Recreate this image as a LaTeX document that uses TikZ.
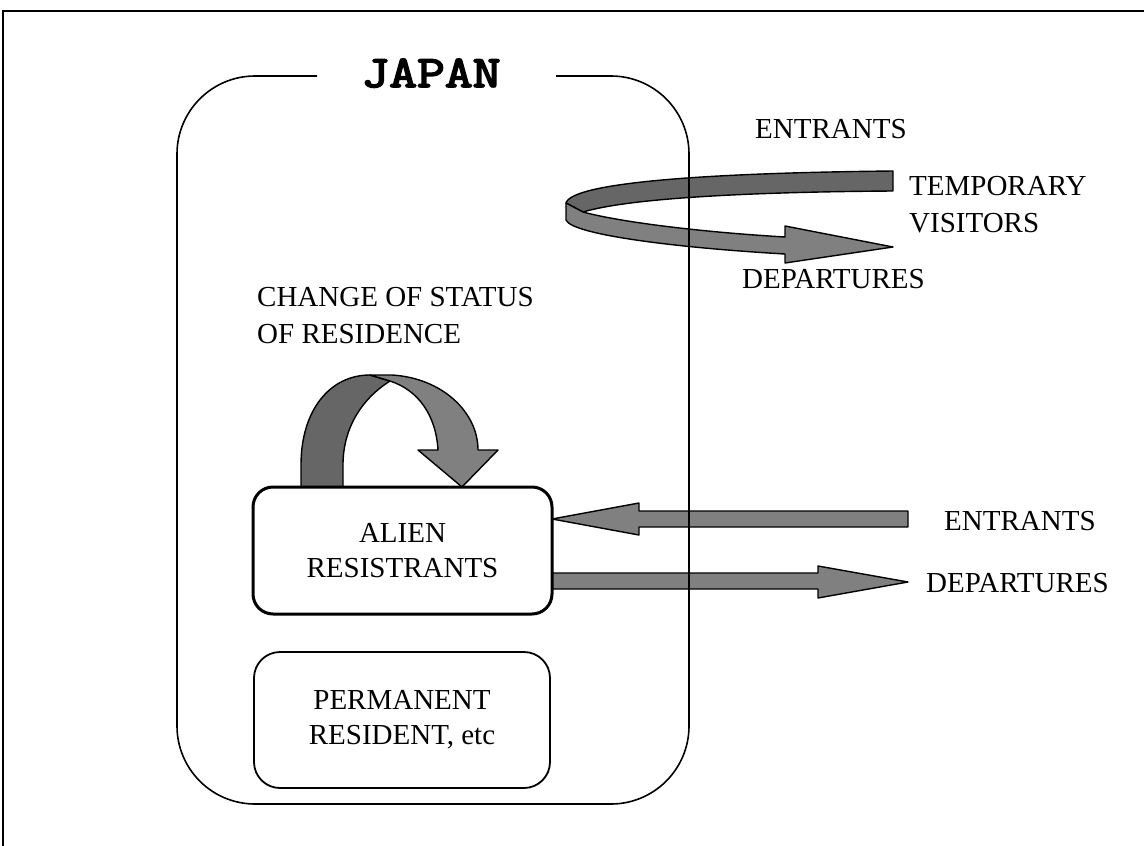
\documentclass[tikz,border=0pt]{standalone}
\usepackage{graphicx}
\usepackage{fontspec}
\setmainfont{Liberation Serif}
\newfontfamily\japanfont{Latin Modern Mono}[FakeBold=3.5]
\definecolor{bandlight}{RGB}{128,128,128}
\definecolor{banddark}{RGB}{102,102,102}
\tikzset{
  lbl/.style={inner sep=0pt, font=\fontsize{29}{37}\selectfont, align=left},
  boxtext/.style={draw, align=center, font=\fontsize{29}{35}\selectfont, fill=white},
  lightband/.style={fill=bandlight, draw=black, line width=1.4pt, line join=round},
  darkband/.style={fill=banddark, draw=black, line width=1.4pt, line join=round},
}
\begin{document}
\begin{tikzpicture}[x=1pt,y=-1pt]
\useasboundingbox (0,0) rectangle (1144,846);
% outer frame (only top and left visible)
\draw[line width=2pt] (1150,11) -- (3,11) -- (3,850);

% temporary visitors loop
\draw[darkband] (893,171) -- (893,191) .. controls (750,192) and (630,198) .. (583,212)
   -- (566,203) .. controls (572,183) and (700,173) .. (893,171) -- cycle;
\draw[lightband] (566,203) -- (566,220) .. controls (572,235) and (680,248) .. (785,254)
   -- (785,263) -- (893,247) -- (785,226) -- (785,237)
   .. controls (700,232) and (620,222) .. (583,212) -- cycle;

% change of status loop
\draw[darkband] (301,487) -- (301,465) .. controls (301,410) and (330,375) .. (370,375)
   -- (390,381) .. controls (360,400) and (343,430) .. (343,465) -- (343,487) -- cycle;
\draw[lightband] (370,375) -- (392,375) .. controls (442,378) and (478,412) .. (478,450)
   -- (498,450) -- (462,487) -- (418,450) -- (438,450)
   .. controls (436,415) and (418,390) .. (390,381) -- cycle;

% straight arrows
\draw[lightband] (552,519) -- (639,503) -- (639,511) -- (908,511) -- (908,527)
   -- (639,527) -- (639,535) -- cycle;
\draw[lightband] (552,573) -- (818,573) -- (818,566) -- (908,582) -- (818,598)
   -- (818,589) -- (552,589) -- cycle;

% Japan box
\draw[line width=1.6pt, rounded corners=78pt] (317,76) -- (177,76) -- (177,804)
   -- (689,804) -- (689,76) -- (556,76);
\node[inner sep=0pt, anchor=base, font=\japanfont\fontsize{45}{45}\selectfont] (japan) at (431,87) {\scalebox{1.2}[1]{JAPAN}};

% inner boxes
\node[boxtext, line width=3pt, rounded corners=20pt, minimum width=299pt, minimum height=127pt] (alien) at (402.5,550.5) {ALIEN\\RESISTRANTS};
\node[boxtext, line width=1.8pt, rounded corners=26pt, minimum width=296pt, minimum height=136pt] (perm) at (402,720) {PERMANENT\\RESIDENT, etc};

% labels
\node[lbl, anchor=north west] (change) at (257,287) {CHANGE OF STATUS\\OF RESIDENCE};
\node[lbl, anchor=north west] (temp) at (909,176) {TEMPORARY\\VISITORS};
\node[lbl, anchor=base west] (ent1) at (755,138) {ENTRANTS};
\node[lbl, anchor=base west] (dep1) at (742,288) {DEPARTURES};
\node[lbl, anchor=base west] (ent2) at (944,530) {ENTRANTS};
\node[lbl, anchor=base west] (dep2) at (926,592) {DEPARTURES};
\end{tikzpicture}
\end{document}
